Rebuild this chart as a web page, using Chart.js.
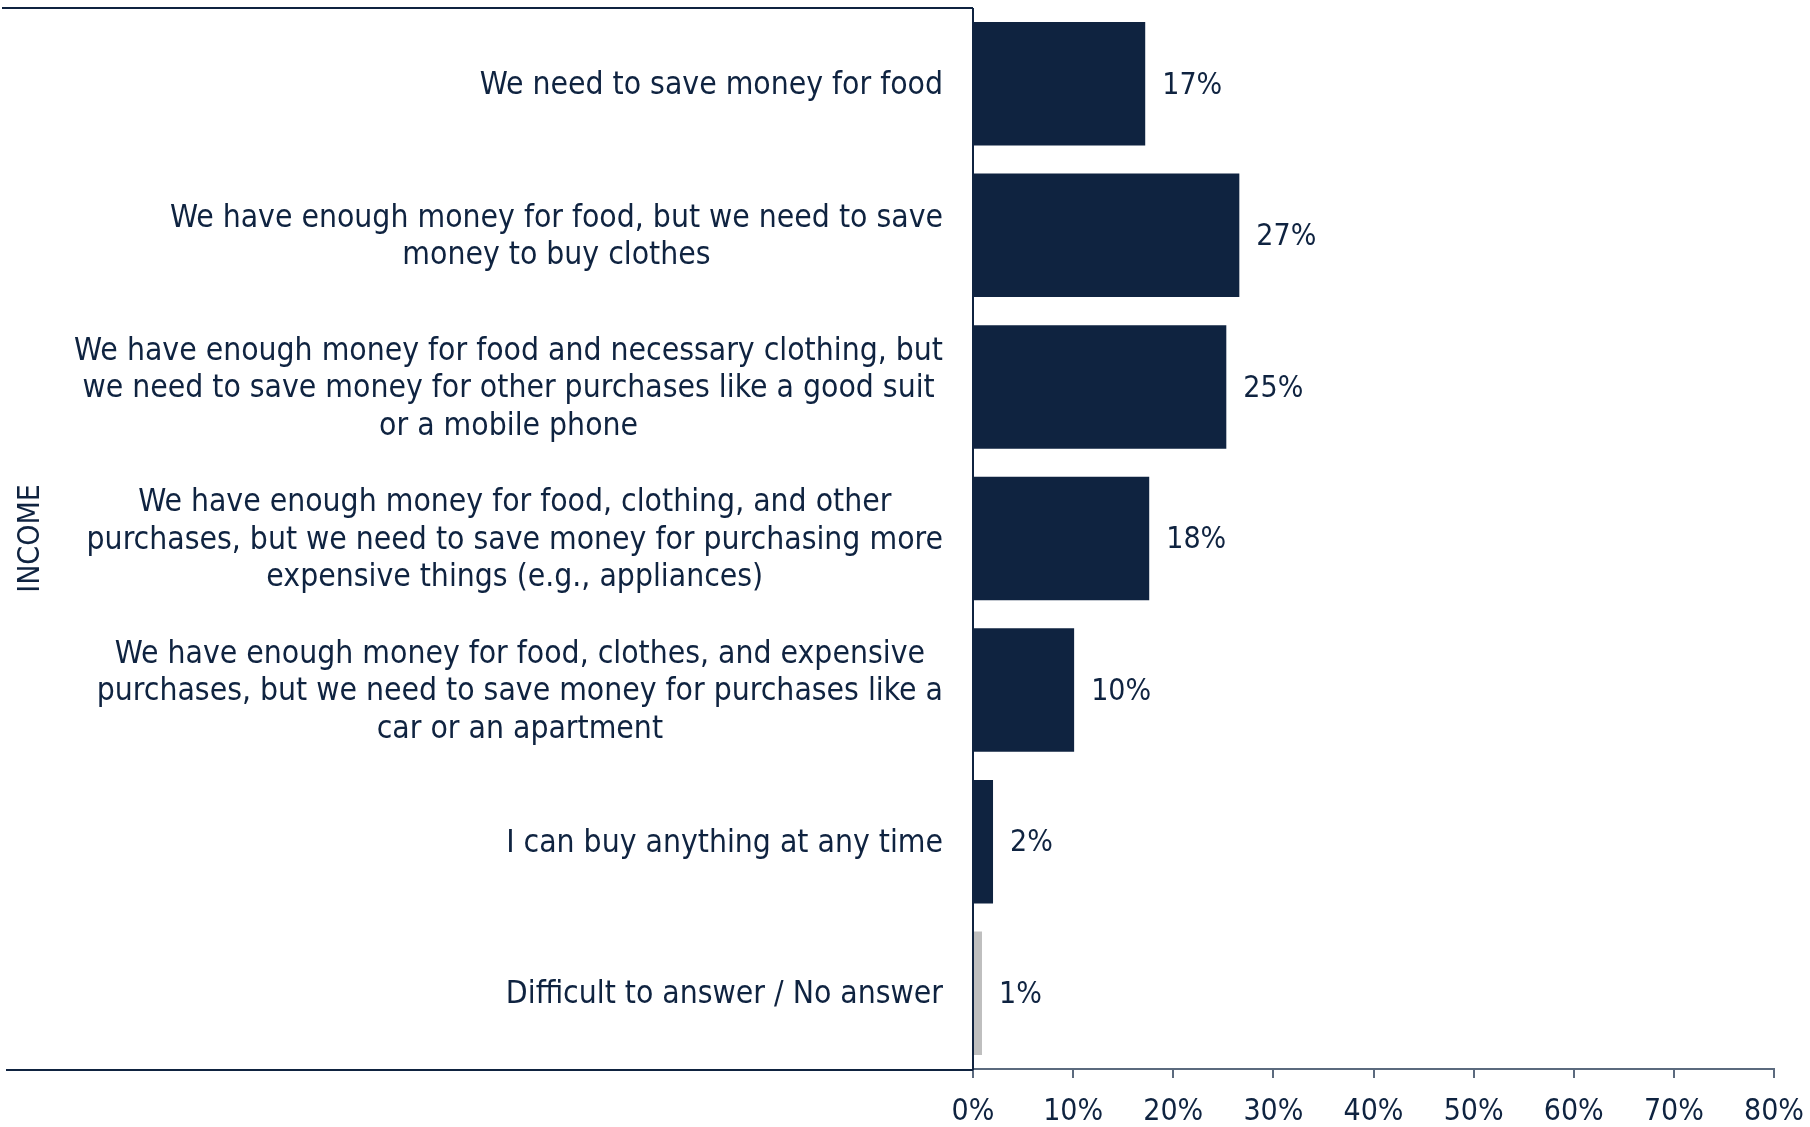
<!DOCTYPE html>
<html>
<head>
<meta charset="utf-8">
<script src="https://cdn.jsdelivr.net/npm/chart.js@4/dist/chart.umd.min.js"></script>
<style>
  html, body { margin: 0; padding: 0; background: #ffffff; }
  #wrap { width: 1810px; height: 1127px; position: relative; }
</style>
</head>
<body>
<div id="wrap"><canvas id="c" width="1810" height="1127"></canvas></div>
<script>
// ---- data ----
const categories = [
  ["We need to save money for food"],
  ["We have enough money for food, but we need to save", "money to buy clothes"],
  ["We have enough money for food and necessary clothing, but", "we need to save money for other purchases like a good suit", "or a mobile phone"],
  ["We have enough money for food, clothing, and other", "purchases, but we need to save money for purchasing more", "expensive things (e.g., appliances)"],
  ["We have enough money for food, clothes, and expensive", "purchases, but we need to save money for purchases like a", "car or an apartment"],
  ["I can buy anything at any time"],
  ["Difficult to answer / No answer"]
];
const values = [17.2, 26.6, 25.3, 17.6, 10.1, 2.0, 0.9];
const valueLabels = ["17%", "27%", "25%", "18%", "10%", "2%", "1%"];
const xTicks = [0, 10, 20, 30, 40, 50, 60, 70, 80];
const axisTitle = "INCOME";

// ---- styles ----
const NAVY = '#0f2340';
const GREY_BAR = '#bfbfbf';
const AXIS_GREY = '#5b6a7e';
const FONT = "'DejaVu Sans Condensed', 'DejaVu Sans', sans-serif";
const barColors = values.map((v, i) => i === values.length - 1 ? GREY_BAR : NAVY);

const categoryLabelsPlugin = {
  id: 'categoryLabels',
  afterDraw(chart) {
    const ctx = chart.ctx;
    const y = chart.scales.y;
    const rightEdge = chart.chartArea.left - 30;
    const lh = 37.5;
    ctx.save();
    ctx.font = '31.6px ' + FONT;
    ctx.fillStyle = NAVY;
    ctx.textAlign = 'center';
    ctx.textBaseline = 'middle';
    categories.forEach((lines, i) => {
      const cy = y.getPixelForValue(i) + 2;
      const maxW = Math.max(...lines.map(l => ctx.measureText(l).width));
      const cx = rightEdge - maxW / 2;
      const y0 = cy - (lines.length - 1) * lh / 2;
      lines.forEach((l, k) => ctx.fillText(l, cx, y0 + k * lh));
    });
    ctx.restore();
  }
};

const valueLabelsPlugin = {
  id: 'valueLabels',
  afterDatasetsDraw(chart) {
    const ctx = chart.ctx;
    const meta = chart.getDatasetMeta(0);
    ctx.save();
    ctx.font = '30px ' + FONT;
    ctx.fillStyle = NAVY;
    ctx.textAlign = 'left';
    ctx.textBaseline = 'middle';
    meta.data.forEach((bar, i) => {
      ctx.fillText(valueLabels[i], bar.x + 17, bar.y + 2);
    });
    ctx.restore();
  }
};

const frameLinesPlugin = {
  id: 'frameLines',
  afterDraw(chart) {
    const ctx = chart.ctx;
    const a = chart.chartArea;
    ctx.save();
    ctx.strokeStyle = NAVY;
    ctx.lineWidth = 2;
    ctx.beginPath();
    ctx.moveTo(2, a.top);
    ctx.lineTo(a.left, a.top);
    ctx.moveTo(6, a.bottom + 1);
    ctx.lineTo(a.left, a.bottom + 1);
    ctx.moveTo(a.left, a.top);
    ctx.lineTo(a.left, a.bottom + 1);
    ctx.stroke();
    ctx.restore();
  }
};

new Chart(document.getElementById('c'), {
  type: 'bar',
  data: {
    labels: categories,
    datasets: [{
      data: values,
      backgroundColor: barColors,
      borderWidth: 0,
      categoryPercentage: 1.0,
      barPercentage: 0.815
    }]
  },
  options: {
    indexAxis: 'y',
    responsive: false,
    animation: false,
    devicePixelRatio: 1,
    layout: { padding: { top: 8, right: 36, left: 0, bottom: 0 } },
    plugins: { legend: { display: false }, tooltip: { enabled: false } },
    scales: {
      x: {
        min: 0, max: 80,
        afterBuildTicks(scale) { scale.ticks = xTicks.map(v => ({ value: v })); },
        afterFit(scale) { scale.height = 58; scale.paddingLeft = 0; scale.paddingRight = 0; },
        ticks: {
          callback: v => v + '%',
          color: NAVY,
          font: { family: FONT, size: 30 },
          padding: 16,
          maxRotation: 0,
          autoSkip: false
        },
        grid: { drawOnChartArea: false, drawTicks: true, tickLength: 9, color: AXIS_GREY, lineWidth: 2 },
        border: { display: true, color: AXIS_GREY, width: 2 }
      },
      y: {
        afterFit(scale) { scale.width = 973; scale.paddingTop = 0; scale.paddingBottom = 0; },
        ticks: { display: false },
        grid: { display: false },
        border: { display: false },
        title: {
          display: true,
          text: axisTitle,
          color: NAVY,
          font: { family: FONT, size: 30 },
          padding: { top: 13, bottom: 0 }
        }
      }
    }
  },
  plugins: [categoryLabelsPlugin, valueLabelsPlugin, frameLinesPlugin]
});
</script>
</body>
</html>
